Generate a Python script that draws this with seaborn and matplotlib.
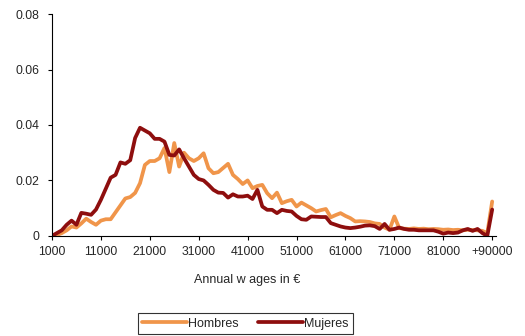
import numpy as np
import pandas as pd
import matplotlib
matplotlib.use("Agg")
import matplotlib.pyplot as plt
import seaborn as sns

# wage bins (1000 EUR steps); last bin is "+90000"
wage_bins = np.arange(1000, 92000, 1000)

hombres = [
    0.0000, 0.0003, 0.0010, 0.0020, 0.0034, 0.0030, 0.0045, 0.0062, 0.0050, 0.0040,
    0.0055, 0.0060, 0.0060, 0.0085, 0.0110, 0.0135, 0.0140, 0.0155, 0.0190, 0.0256,
    0.0270, 0.0270, 0.0280, 0.0317, 0.0230, 0.0335, 0.0250, 0.0300, 0.0280, 0.0270,
    0.0280, 0.0298, 0.0244, 0.0226, 0.0230, 0.0245, 0.0260, 0.0220, 0.0205, 0.0187,
    0.0200, 0.0172, 0.0180, 0.0184, 0.0154, 0.0136, 0.0156, 0.0118, 0.0125, 0.0130,
    0.0106, 0.0120, 0.0110, 0.0100, 0.0088, 0.0093, 0.0097, 0.0067, 0.0075, 0.0082,
    0.0072, 0.0064, 0.0052, 0.0053, 0.0052, 0.0050, 0.0045, 0.0043, 0.0030, 0.0022,
    0.0070, 0.0028, 0.0026, 0.0025, 0.0027, 0.0025, 0.0026, 0.0024, 0.0025, 0.0024,
    0.0022, 0.0023, 0.0021, 0.0022, 0.0020, 0.0022, 0.0021, 0.0020, 0.0018, 0.0010,
    0.0124,
]

mujeres = [
    0.0000, 0.0010, 0.0020, 0.0040, 0.0055, 0.0040, 0.0083, 0.0080, 0.0076, 0.0095,
    0.0130, 0.0170, 0.0210, 0.0220, 0.0265, 0.0260, 0.0273, 0.0353, 0.0390, 0.0380,
    0.0370, 0.0350, 0.0350, 0.0340, 0.0292, 0.0290, 0.0312, 0.0280, 0.0250, 0.0220,
    0.0205, 0.0200, 0.0184, 0.0166, 0.0156, 0.0155, 0.0138, 0.0150, 0.0142, 0.0142,
    0.0145, 0.0133, 0.0166, 0.0106, 0.0094, 0.0094, 0.0082, 0.0094, 0.0090, 0.0088,
    0.0072, 0.0060, 0.0058, 0.0070, 0.0069, 0.0068, 0.0068, 0.0046, 0.0040, 0.0034,
    0.0030, 0.0028, 0.0030, 0.0033, 0.0037, 0.0038, 0.0035, 0.0025, 0.0043, 0.0022,
    0.0025, 0.0030, 0.0025, 0.0022, 0.0022, 0.0020, 0.0020, 0.0020, 0.0020, 0.0015,
    0.0008, 0.0012, 0.0010, 0.0012, 0.0020, 0.0025, 0.0018, 0.0025, 0.0010, 0.0000,
    0.0095,
]

tick_values = [1000, 11000, 21000, 31000, 41000, 51000, 61000, 71000, 81000, 91000]
tick_labels = ["1000", "11000", "21000", "31000", "41000", "51000",
               "61000", "71000", "81000", "+90000"]
y_ticks = [0, 0.02, 0.04, 0.06, 0.08]
y_labels = ["0", "0.02", "0.04", "0.06", "0.08"]

colors = {"Hombres": "#F0954A", "Mujeres": "#8E0E0E"}

df = pd.DataFrame({
    "wage": np.concatenate([wage_bins, wage_bins]),
    "density": hombres + mujeres,
    "sex": ["Hombres"] * len(hombres) + ["Mujeres"] * len(mujeres),
})

sns.set_style("white")
plt.rcParams["font.family"] = ["Liberation Sans", "DejaVu Sans"]

fig = plt.figure(figsize=(5.25, 3.36), dpi=100)
ax = fig.add_axes([0.099, 0.298, 0.845, 0.66])

sns.lineplot(data=df, x="wage", y="density", hue="sex", palette=colors,
             linewidth=2.7, ax=ax, legend=False)

ax.set_xlim(1000, 91700)
ax.set_ylim(0, 0.08)
ax.set_xticks(tick_values)
ax.set_xticklabels(tick_labels, fontsize=8.8)
ax.set_yticks(y_ticks)
ax.set_yticklabels(y_labels, fontsize=8.8)
ax.tick_params(axis="both", direction="out", length=3, width=0.8, color="black",
               bottom=True, left=True)
ax.tick_params(axis="y", pad=6)
ax.tick_params(axis="x", pad=4)
ax.set_ylabel("")
ax.set_xlabel("Annual w ages in €", fontsize=9)
ax.xaxis.set_label_coords(0.44, -0.17)

for s in ["top", "right"]:
    ax.spines[s].set_visible(False)
for s in ["left", "bottom"]:
    ax.spines[s].set_color("black")
    ax.spines[s].set_linewidth(0.8)

handles = [plt.Line2D([0], [0], color=colors[k], lw=2.7) for k in ["Hombres", "Mujeres"]]
leg = fig.legend(handles, ["Hombres", "Mujeres"], loc="upper center",
                 bbox_to_anchor=(0.467, 1 - 307 / 336), ncol=2, fontsize=9,
                 frameon=True, fancybox=False, edgecolor="black",
                 handlelength=3.6, handletextpad=0.1, columnspacing=1.5,
                 borderpad=0.35)
leg.get_frame().set_linewidth(0.8)

fig.savefig("out.png", dpi=100)
